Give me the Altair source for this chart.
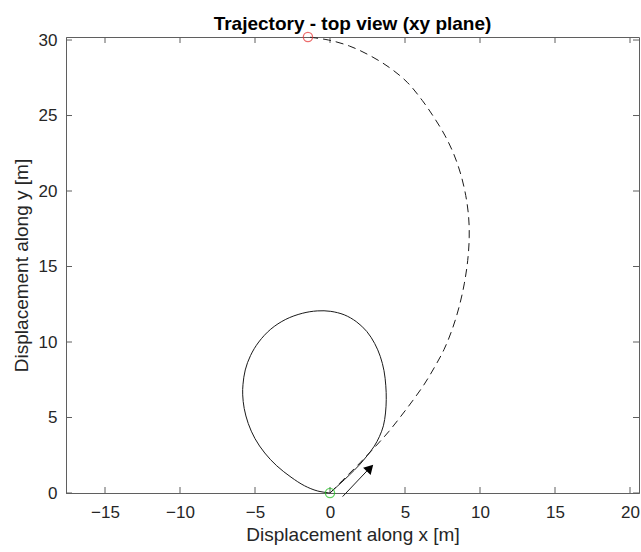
import altair as alt
import pandas as pd

# --- data -------------------------------------------------------------------
loop_x = [0.0, 0.6, 1.3, 1.95, 2.5, 2.95, 3.3, 3.56, 3.7, 3.75, 3.72, 3.6, 3.35, 2.98,
          2.45, 1.75, 0.95, 0.05, -0.85, -1.85, -2.95, -3.95, -4.75, -5.3, -5.65, -5.8,
          -5.82, -5.72, -5.45, -5.0, -4.35, -3.55, -2.6, -1.7, -0.85, 0.0]
loop_y = [0.0, 0.55, 1.2, 1.85, 2.5, 3.1, 3.75, 4.45, 5.3, 6.2, 7.1, 8.1, 9.05, 9.9,
          10.7, 11.35, 11.8, 12.03, 12.06, 11.9, 11.5, 10.85, 10.0, 9.1, 8.15, 7.2,
          6.5, 5.6, 4.6, 3.6, 2.65, 1.8, 1.05, 0.48, 0.14, 0.0]

dash_x = [0.0, 1.0, 2.0, 3.0, 3.9, 4.7, 5.5, 6.25, 6.95, 7.6, 8.15, 8.6, 8.95, 9.18,
          9.28, 9.24, 9.05, 8.72, 8.25, 7.65, 6.95, 6.15, 5.15, 4.0, 2.7, 1.3, -0.1, -1.47]
dash_y = [0.0, 1.0, 2.0, 3.05, 4.05, 5.05, 6.1, 7.15, 8.3, 9.5, 10.85, 12.3, 13.85, 15.4,
          16.9, 18.3, 19.7, 21.1, 22.45, 23.7, 24.85, 26.0, 27.2, 28.15, 28.95, 29.6, 30.0,
          30.2]

start_x, start_y = [0.0], [0.0]
end_x, end_y = [-1.47], [30.2]

arrow_x = [0.84, 2.5]
arrow_y = [-0.24, 1.5]
arrow_head_x = [2.6]
arrow_head_y = [1.58]

x_ticks = [-15, -10, -5, 0, 5, 10, 15, 20]
y_ticks = [0, 5, 10, 15, 20, 25, 30]
x_domain = [-17.6, 20.6]
y_domain = [0, 30.2]

TITLE = "Trajectory - top view (xy plane)"
X_TITLE = "Displacement along x [m]"
Y_TITLE = "Displacement along y [m]"

# --- build -------------------------------------------------------------------
W, H = 573, 456
FONT = "Liberation Sans"
AX = "#5f5f5f"
TXT = "#262626"

xs = alt.Scale(domain=x_domain, nice=False, zero=False)
ys = alt.Scale(domain=y_domain, nice=False, zero=False)
x_axis = alt.Axis(values=x_ticks, ticks=False, grid=False, labelPadding=11,
                  labelFontSize=17, labelColor=TXT, labelFont=FONT,
                  domainColor=AX, title=X_TITLE, titleFont=FONT, titleFontSize=19,
                  titleFontWeight="normal", titleColor=TXT, titlePadding=5,
                  labelFlush=False, labelOverlap=False)
y_axis = alt.Axis(values=y_ticks, ticks=False, grid=False, labelPadding=9,
                  labelFontSize=17, labelColor=TXT, labelFont=FONT,
                  domainColor=AX, title=Y_TITLE, titleFont=FONT, titleFontSize=19,
                  titleFontWeight="normal", titleColor=TXT, titlePadding=7,
                  labelFlush=False, labelOverlap=False)

X = alt.X("x:Q", scale=xs, axis=x_axis)
Y = alt.Y("y:Q", scale=ys, axis=y_axis)

loop_df = pd.DataFrame({"x": loop_x, "y": loop_y, "i": range(len(loop_x))})
dash_df = pd.DataFrame({"x": dash_x, "y": dash_y, "i": range(len(dash_x))})
start_df = pd.DataFrame({"x": start_x, "y": start_y})
end_df = pd.DataFrame({"x": end_x, "y": end_y})
arrow_df = pd.DataFrame({"x": arrow_x, "y": arrow_y, "i": range(len(arrow_x))})
head_df = pd.DataFrame({"x": arrow_head_x, "y": arrow_head_y})
xt_df = pd.DataFrame({"x": x_ticks})
yt_df = pd.DataFrame({"y": y_ticks})

loop = alt.Chart(loop_df).mark_line(color="#1a1a1a", strokeWidth=1,
                                    interpolate="catmull-rom").encode(x=X, y=Y, order="i:Q")
dash = alt.Chart(dash_df).mark_line(color="#1a1a1a", strokeWidth=1, strokeDash=[8, 5],
                                    interpolate="catmull-rom").encode(x=X, y=Y, order="i:Q")
start = alt.Chart(start_df).mark_point(shape="circle", filled=False, size=85,
                                       color="#1ec21e", strokeWidth=1.3).encode(x=X, y=Y)
end = alt.Chart(end_df).mark_point(shape="circle", filled=False, size=85,
                                   color="#e63030", strokeWidth=1.3).encode(x=X, y=Y)
shaft = alt.Chart(arrow_df).mark_line(color="#1a1a1a", strokeWidth=1).encode(
    x=X, y=Y, order="i:Q")
head = alt.Chart(head_df).mark_point(shape="triangle", filled=True, size=110, angle=44,
                                     color="#000000", opacity=1).encode(x=X, y=Y)

tick_len = 6
bt = alt.Chart(xt_df).mark_rule(color=AX, strokeWidth=1).encode(
    x=X, y=alt.value(H), y2=alt.value(H - tick_len))
tt = alt.Chart(xt_df).mark_rule(color=AX, strokeWidth=1).encode(
    x=X, y=alt.value(0), y2=alt.value(tick_len))
lt = alt.Chart(yt_df).mark_rule(color=AX, strokeWidth=1).encode(
    y=Y, x=alt.value(0), x2=alt.value(tick_len))
rt = alt.Chart(yt_df).mark_rule(color=AX, strokeWidth=1).encode(
    y=Y, x=alt.value(W), x2=alt.value(W - tick_len))

chart = alt.layer(bt, tt, lt, rt, loop, dash, shaft, head, start, end).properties(
    width=W, height=H,
    title=alt.TitleParams(TITLE, fontSize=19, fontWeight="bold", font=FONT,
                          color="#000000", anchor="middle", offset=-4),
    autosize=alt.AutoSizeParams(type="none"),
    padding={"left": 66, "top": 37, "right": 2, "bottom": 59},
    background="white",
).configure_view(stroke=AX, strokeWidth=1)

chart.save("out.html", embed_options={"renderer": "svg", "actions": False})
